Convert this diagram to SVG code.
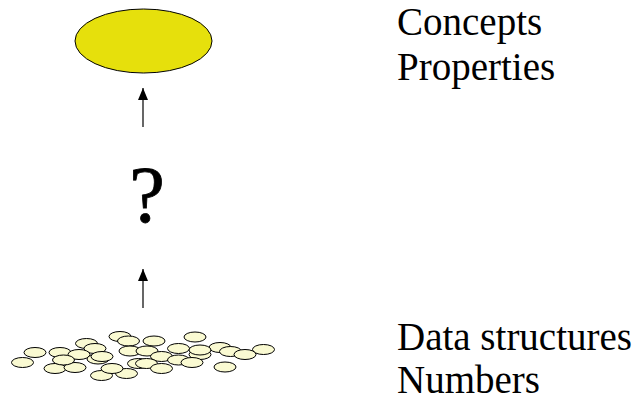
<svg xmlns="http://www.w3.org/2000/svg" width="639" height="400" viewBox="0 0 639 400">
<style>
.lbl{font-family:'Liberation Serif','Times New Roman',serif;font-size:39px;fill:#000}
.q{font-family:'Liberation Serif','Times New Roman',serif;font-size:80px;fill:#000;stroke:#000;stroke-width:0.8}
.disk{fill:#FAFAD2;stroke:#000;stroke-width:1}
.conn{stroke:#000;stroke-width:1.2;fill:none}
</style>
<defs>
<marker id="ah" viewBox="0 0 12 10" refX="12" refY="5" markerWidth="12" markerHeight="10" markerUnits="userSpaceOnUse" orient="auto">
<path d="M0,0 L12,5 L0,10 Z" fill="#000"/>
</marker>
</defs>
<rect width="639" height="400" fill="#fff"/>
<g id="concepts">
<ellipse cx="143.5" cy="41" rx="68.5" ry="32" fill="#E6E00C" stroke="#000" stroke-width="1"/>
</g>
<g id="question">
<text class="q" x="147" y="222" text-anchor="middle">?</text>
</g>
<g id="data">
<ellipse class="disk" cx="120" cy="336.5" rx="11" ry="5"/>
<ellipse class="disk" cx="195" cy="337" rx="11" ry="5"/>
<ellipse class="disk" cx="86.5" cy="343.5" rx="11" ry="5"/>
<ellipse class="disk" cx="128.5" cy="341" rx="11" ry="5"/>
<ellipse class="disk" cx="154" cy="341" rx="11" ry="5"/>
<ellipse class="disk" cx="95" cy="348.5" rx="11" ry="5"/>
<ellipse class="disk" cx="178.5" cy="348.5" rx="11" ry="5"/>
<ellipse class="disk" cx="220" cy="347.5" rx="11" ry="5"/>
<ellipse class="disk" cx="263.5" cy="349.5" rx="11" ry="5"/>
<ellipse class="disk" cx="130" cy="351" rx="11" ry="5"/>
<ellipse class="disk" cx="200" cy="354.5" rx="11" ry="5"/>
<ellipse class="disk" cx="200" cy="350" rx="11" ry="5"/>
<ellipse class="disk" cx="35" cy="352.5" rx="11" ry="5"/>
<ellipse class="disk" cx="60" cy="352.5" rx="11" ry="5"/>
<ellipse class="disk" cx="79" cy="354.5" rx="11" ry="5"/>
<ellipse class="disk" cx="98" cy="359" rx="11" ry="5"/>
<ellipse class="disk" cx="102" cy="356.5" rx="11" ry="5"/>
<ellipse class="disk" cx="147" cy="351" rx="11" ry="5"/>
<ellipse class="disk" cx="161.5" cy="356.5" rx="11" ry="5"/>
<ellipse class="disk" cx="230.5" cy="351.5" rx="11" ry="5"/>
<ellipse class="disk" cx="245" cy="354.5" rx="11" ry="5"/>
<ellipse class="disk" cx="22.5" cy="362.5" rx="11" ry="5"/>
<ellipse class="disk" cx="55" cy="368.5" rx="11" ry="5"/>
<ellipse class="disk" cx="75" cy="367.5" rx="11" ry="5"/>
<ellipse class="disk" cx="63.5" cy="360" rx="11" ry="5"/>
<ellipse class="disk" cx="101.5" cy="375.5" rx="11" ry="5"/>
<ellipse class="disk" cx="126.5" cy="373.5" rx="11" ry="5"/>
<ellipse class="disk" cx="112" cy="368.5" rx="11" ry="5"/>
<ellipse class="disk" cx="138.5" cy="363.5" rx="11" ry="5"/>
<ellipse class="disk" cx="146.5" cy="363.5" rx="11" ry="5"/>
<ellipse class="disk" cx="161.5" cy="368.5" rx="11" ry="5"/>
<ellipse class="disk" cx="178.5" cy="360" rx="11" ry="5"/>
<ellipse class="disk" cx="192" cy="362.5" rx="11" ry="5"/>
<ellipse class="disk" cx="225" cy="367" rx="11" ry="5"/>
</g>
<g id="connectors">
<line class="conn" x1="143" y1="127" x2="143" y2="88" marker-end="url(#ah)"/>
<line class="conn" x1="143" y1="308" x2="143" y2="269" marker-end="url(#ah)"/>
</g>
<g id="labels">
<text class="lbl" x="397" y="35">Concepts</text>
<text class="lbl" x="397" y="80">Properties</text>
<text class="lbl" x="397" y="350">Data structures</text>
<text class="lbl" x="397" y="393">Numbers</text>
</g>
</svg>
